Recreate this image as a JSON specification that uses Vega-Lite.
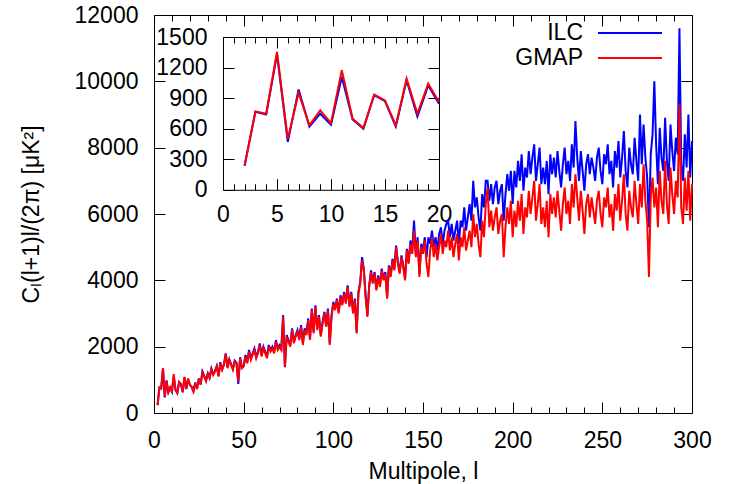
{
"$schema": "https://vega.github.io/schema/vega-lite/v6.json",
"width": 538, "height": 398,
"autosize": {"type": "none"},
"padding": {"left": 154, "top": 15, "right": 39, "bottom": 71},
"data": {"values": [
{"l":2,"ILC":235,"GMAP":239},{"l":3,"ILC":765,"GMAP":770},{"l":4,"ILC":740,"GMAP":747},{"l":5,"ILC":1330,"GMAP":1353},{"l":6,"ILC":470,"GMAP":501},{"l":7,"ILC":985,"GMAP":950},{"l":8,"ILC":620,"GMAP":632},{"l":9,"ILC":747,"GMAP":780},{"l":10,"ILC":639,"GMAP":655},
{"l":11,"ILC":1107,"GMAP":1173},{"l":12,"ILC":690,"GMAP":698},{"l":13,"ILC":600,"GMAP":606},{"l":14,"ILC":930,"GMAP":934},{"l":15,"ILC":870,"GMAP":878},{"l":16,"ILC":622,"GMAP":632},{"l":17,"ILC":1074,"GMAP":1091},{"l":18,"ILC":720,"GMAP":747},{"l":19,"ILC":1025,"GMAP":1042},{"l":20,"ILC":845,"GMAP":861},
{"l":21,"ILC":790,"GMAP":780},{"l":22,"ILC":660,"GMAP":640},{"l":23,"ILC":920,"GMAP":900},{"l":24,"ILC":740,"GMAP":720},{"l":25,"ILC":1040,"GMAP":1020},{"l":26,"ILC":870,"GMAP":850},{"l":27,"ILC":1250,"GMAP":1230},{"l":28,"ILC":1120,"GMAP":1100},{"l":29,"ILC":980,"GMAP":960},{"l":30,"ILC":1200,"GMAP":1180},
{"l":31,"ILC":1070,"GMAP":1050},{"l":32,"ILC":1340,"GMAP":1320},{"l":33,"ILC":1170,"GMAP":1150},{"l":34,"ILC":1270,"GMAP":1250},{"l":35,"ILC":1420,"GMAP":1400},{"l":36,"ILC":1120,"GMAP":1100},{"l":37,"ILC":1530,"GMAP":1500},{"l":38,"ILC":1320,"GMAP":1300},{"l":39,"ILC":1470,"GMAP":1450},{"l":40,"ILC":1800,"GMAP":1780},
{"l":41,"ILC":1380,"GMAP":1350},{"l":42,"ILC":1620,"GMAP":1600},{"l":43,"ILC":1470,"GMAP":1450},{"l":44,"ILC":1330,"GMAP":1300},{"l":45,"ILC":1580,"GMAP":1550},{"l":46,"ILC":1520,"GMAP":1500},{"l":47,"ILC":880,"GMAP":950},{"l":48,"ILC":1680,"GMAP":1650},{"l":49,"ILC":1380,"GMAP":1350},{"l":50,"ILC":1420,"GMAP":1400},
{"l":51,"ILC":1750,"GMAP":1700},{"l":52,"ILC":1550,"GMAP":1500},{"l":53,"ILC":1900,"GMAP":1850},{"l":54,"ILC":1650,"GMAP":1600},{"l":55,"ILC":1800,"GMAP":1750},{"l":56,"ILC":1950,"GMAP":1900},{"l":57,"ILC":1700,"GMAP":1650},{"l":58,"ILC":1850,"GMAP":1800},{"l":59,"ILC":2100,"GMAP":2050},{"l":60,"ILC":1750,"GMAP":1700},
{"l":61,"ILC":2000,"GMAP":1950},{"l":62,"ILC":1850,"GMAP":1800},{"l":63,"ILC":1700,"GMAP":1650},{"l":64,"ILC":2050,"GMAP":2000},{"l":65,"ILC":1900,"GMAP":1850},{"l":66,"ILC":2000,"GMAP":1950},{"l":67,"ILC":1850,"GMAP":1800},{"l":68,"ILC":2200,"GMAP":2150},{"l":69,"ILC":1950,"GMAP":1900},{"l":70,"ILC":2050,"GMAP":2000},
{"l":71,"ILC":1950,"GMAP":1900},{"l":72,"ILC":2950,"GMAP":2900},{"l":73,"ILC":1380,"GMAP":1400},{"l":74,"ILC":2350,"GMAP":2300},{"l":75,"ILC":2200,"GMAP":2150},{"l":76,"ILC":2050,"GMAP":2000},{"l":77,"ILC":2550,"GMAP":2500},{"l":78,"ILC":2150,"GMAP":2100},{"l":79,"ILC":2350,"GMAP":2300},{"l":80,"ILC":2500,"GMAP":2450},
{"l":81,"ILC":2250,"GMAP":2200},{"l":82,"ILC":2650,"GMAP":2600},{"l":83,"ILC":2100,"GMAP":2050},{"l":84,"ILC":2550,"GMAP":2500},{"l":85,"ILC":2400,"GMAP":2350},{"l":86,"ILC":2850,"GMAP":2800},{"l":87,"ILC":2250,"GMAP":2200},{"l":88,"ILC":3150,"GMAP":3100},{"l":89,"ILC":2450,"GMAP":2400},{"l":90,"ILC":3250,"GMAP":3200},
{"l":91,"ILC":2550,"GMAP":2500},{"l":92,"ILC":2950,"GMAP":2900},{"l":93,"ILC":2350,"GMAP":2300},{"l":94,"ILC":2750,"GMAP":2700},{"l":95,"ILC":3050,"GMAP":3000},{"l":96,"ILC":2650,"GMAP":2600},{"l":97,"ILC":3150,"GMAP":3100},{"l":98,"ILC":2100,"GMAP":2050},{"l":99,"ILC":2950,"GMAP":2900},{"l":100,"ILC":3350,"GMAP":3300},
{"l":101,"ILC":3150,"GMAP":3100},{"l":102,"ILC":3450,"GMAP":3400},{"l":103,"ILC":3050,"GMAP":3000},{"l":104,"ILC":3550,"GMAP":3500},{"l":105,"ILC":3300,"GMAP":3250},{"l":106,"ILC":3650,"GMAP":3600},{"l":107,"ILC":3350,"GMAP":3300},{"l":108,"ILC":3850,"GMAP":3800},{"l":109,"ILC":3250,"GMAP":3200},{"l":110,"ILC":3650,"GMAP":3600},
{"l":111,"ILC":3050,"GMAP":3000},{"l":112,"ILC":3450,"GMAP":3400},{"l":113,"ILC":2450,"GMAP":2400},{"l":114,"ILC":3650,"GMAP":3600},{"l":115,"ILC":3950,"GMAP":3900},{"l":116,"ILC":4700,"GMAP":4600},{"l":117,"ILC":4350,"GMAP":4300},{"l":118,"ILC":3550,"GMAP":3500},{"l":119,"ILC":2950,"GMAP":2900},{"l":120,"ILC":3850,"GMAP":3800},
{"l":121,"ILC":4300,"GMAP":4250},{"l":122,"ILC":3950,"GMAP":3900},{"l":123,"ILC":4250,"GMAP":4200},{"l":124,"ILC":3750,"GMAP":3700},{"l":125,"ILC":4150,"GMAP":4100},{"l":126,"ILC":3850,"GMAP":3800},{"l":127,"ILC":4350,"GMAP":4300},{"l":128,"ILC":4050,"GMAP":4000},{"l":129,"ILC":4250,"GMAP":4200},{"l":130,"ILC":3500,"GMAP":3450},
{"l":131,"ILC":4450,"GMAP":4400},{"l":132,"ILC":4150,"GMAP":4100},{"l":133,"ILC":4650,"GMAP":4600},{"l":134,"ILC":4350,"GMAP":4300},{"l":135,"ILC":5050,"GMAP":5000},{"l":136,"ILC":4550,"GMAP":4500},{"l":137,"ILC":4250,"GMAP":4200},{"l":138,"ILC":4750,"GMAP":4700},{"l":139,"ILC":4450,"GMAP":4400},{"l":140,"ILC":4050,"GMAP":4000},
{"l":141,"ILC":4950,"GMAP":4900},{"l":142,"ILC":4550,"GMAP":4500},{"l":143,"ILC":5200,"GMAP":5100},{"l":144,"ILC":4900,"GMAP":4800},{"l":145,"ILC":5800,"GMAP":5500},{"l":146,"ILC":4800,"GMAP":4700},{"l":147,"ILC":5300,"GMAP":5200},{"l":148,"ILC":4200,"GMAP":4100},{"l":149,"ILC":5100,"GMAP":5000},{"l":150,"ILC":4900,"GMAP":4800},
{"l":151,"ILC":5300,"GMAP":5200},{"l":152,"ILC":4700,"GMAP":4500},{"l":153,"ILC":5300,"GMAP":4100},{"l":154,"ILC":5100,"GMAP":4900},{"l":155,"ILC":5500,"GMAP":5300},{"l":156,"ILC":5000,"GMAP":4700},{"l":157,"ILC":5300,"GMAP":5100},{"l":158,"ILC":4900,"GMAP":4600},{"l":159,"ILC":5400,"GMAP":5000},{"l":160,"ILC":5600,"GMAP":5400},
{"l":161,"ILC":5100,"GMAP":4800},{"l":162,"ILC":5500,"GMAP":5200},{"l":163,"ILC":5700,"GMAP":5000},{"l":164,"ILC":5800,"GMAP":5500},{"l":165,"ILC":5300,"GMAP":4900},{"l":166,"ILC":5700,"GMAP":5300},{"l":167,"ILC":5200,"GMAP":4700},{"l":168,"ILC":5500,"GMAP":5100},{"l":169,"ILC":5800,"GMAP":5400},{"l":170,"ILC":5100,"GMAP":4600},
{"l":171,"ILC":5800,"GMAP":5300},{"l":172,"ILC":5600,"GMAP":5000},{"l":173,"ILC":6200,"GMAP":5600},{"l":174,"ILC":5500,"GMAP":4900},{"l":175,"ILC":5900,"GMAP":5200},{"l":176,"ILC":6300,"GMAP":5500},{"l":177,"ILC":5800,"GMAP":5000},{"l":178,"ILC":7000,"GMAP":6000},{"l":179,"ILC":6200,"GMAP":5300},{"l":180,"ILC":6500,"GMAP":5700},
{"l":181,"ILC":5900,"GMAP":5100},{"l":182,"ILC":5500,"GMAP":4700},{"l":183,"ILC":6600,"GMAP":5800},{"l":184,"ILC":6200,"GMAP":5300},{"l":185,"ILC":7000,"GMAP":6300},{"l":186,"ILC":7000,"GMAP":6800},{"l":187,"ILC":6400,"GMAP":5600},{"l":188,"ILC":6900,"GMAP":6100},{"l":189,"ILC":6300,"GMAP":5500},{"l":190,"ILC":6800,"GMAP":5900},
{"l":191,"ILC":7000,"GMAP":6200},{"l":192,"ILC":6300,"GMAP":5400},{"l":193,"ILC":6700,"GMAP":5800},{"l":194,"ILC":6900,"GMAP":6000},{"l":195,"ILC":5800,"GMAP":4700},{"l":196,"ILC":6600,"GMAP":5600},{"l":197,"ILC":7200,"GMAP":6200},{"l":198,"ILC":6700,"GMAP":5700},{"l":199,"ILC":7300,"GMAP":6400},{"l":200,"ILC":6300,"GMAP":5300},
{"l":201,"ILC":7300,"GMAP":6100},{"l":202,"ILC":6800,"GMAP":5600},{"l":203,"ILC":7600,"GMAP":6400},{"l":204,"ILC":7000,"GMAP":5800},{"l":205,"ILC":7800,"GMAP":6600},{"l":206,"ILC":6700,"GMAP":5400},{"l":207,"ILC":7400,"GMAP":6200},{"l":208,"ILC":7100,"GMAP":5900},{"l":209,"ILC":7900,"GMAP":6700},{"l":210,"ILC":7200,"GMAP":6000},
{"l":211,"ILC":7700,"GMAP":6500},{"l":212,"ILC":8100,"GMAP":7000},{"l":213,"ILC":7000,"GMAP":5800},{"l":214,"ILC":7500,"GMAP":6300},{"l":215,"ILC":8000,"GMAP":6900},{"l":216,"ILC":6900,"GMAP":5700},{"l":217,"ILC":7400,"GMAP":6200},{"l":218,"ILC":6900,"GMAP":5600},{"l":219,"ILC":7600,"GMAP":6400},{"l":220,"ILC":6600,"GMAP":5300},
{"l":221,"ILC":7800,"GMAP":6600},{"l":222,"ILC":7200,"GMAP":6000},{"l":223,"ILC":7700,"GMAP":6500},{"l":224,"ILC":7100,"GMAP":5900},{"l":225,"ILC":7900,"GMAP":6700},{"l":226,"ILC":7300,"GMAP":6100},{"l":227,"ILC":6800,"GMAP":5500},{"l":228,"ILC":7500,"GMAP":6300},{"l":229,"ILC":8000,"GMAP":6800},{"l":230,"ILC":7200,"GMAP":6000},
{"l":231,"ILC":7600,"GMAP":6400},{"l":232,"ILC":7000,"GMAP":5700},{"l":233,"ILC":8100,"GMAP":6900},{"l":234,"ILC":7400,"GMAP":6200},{"l":235,"ILC":8800,"GMAP":7200},{"l":236,"ILC":7700,"GMAP":6500},{"l":237,"ILC":7000,"GMAP":5800},{"l":238,"ILC":7900,"GMAP":6700},{"l":239,"ILC":7300,"GMAP":6100},{"l":240,"ILC":6700,"GMAP":5400},
{"l":241,"ILC":7500,"GMAP":6300},{"l":242,"ILC":7800,"GMAP":6600},{"l":243,"ILC":7200,"GMAP":5900},{"l":244,"ILC":7700,"GMAP":6500},{"l":245,"ILC":7400,"GMAP":6100},{"l":246,"ILC":7000,"GMAP":5700},{"l":247,"ILC":7700,"GMAP":6400},{"l":248,"ILC":8000,"GMAP":6700},{"l":249,"ILC":7300,"GMAP":6000},{"l":250,"ILC":6900,"GMAP":5600},
{"l":251,"ILC":7800,"GMAP":6500},{"l":252,"ILC":7500,"GMAP":6200},{"l":253,"ILC":8100,"GMAP":6800},{"l":254,"ILC":7200,"GMAP":5900},{"l":255,"ILC":7600,"GMAP":6300},{"l":256,"ILC":6800,"GMAP":5500},{"l":257,"ILC":7900,"GMAP":6600},{"l":258,"ILC":7400,"GMAP":6100},{"l":259,"ILC":8200,"GMAP":6900},{"l":260,"ILC":7100,"GMAP":5800},
{"l":261,"ILC":7700,"GMAP":6400},{"l":262,"ILC":8500,"GMAP":7200},{"l":263,"ILC":7300,"GMAP":6000},{"l":264,"ILC":6800,"GMAP":5500},{"l":265,"ILC":8000,"GMAP":6700},{"l":266,"ILC":7500,"GMAP":6200},{"l":267,"ILC":7200,"GMAP":5900},{"l":268,"ILC":8300,"GMAP":7000},{"l":269,"ILC":7600,"GMAP":6300},{"l":270,"ILC":7000,"GMAP":5700},
{"l":271,"ILC":9000,"GMAP":6900},{"l":272,"ILC":7500,"GMAP":6200},{"l":273,"ILC":8700,"GMAP":7500},{"l":274,"ILC":7700,"GMAP":6400},{"l":275,"ILC":7100,"GMAP":5800},{"l":276,"ILC":5600,"GMAP":4100},{"l":277,"ILC":7800,"GMAP":6500},{"l":278,"ILC":8400,"GMAP":7100},{"l":279,"ILC":10000,"GMAP":6200},{"l":280,"ILC":8100,"GMAP":6800},
{"l":281,"ILC":6900,"GMAP":5600},{"l":282,"ILC":8600,"GMAP":7300},{"l":283,"ILC":7700,"GMAP":6400},{"l":284,"ILC":7300,"GMAP":6000},{"l":285,"ILC":8900,"GMAP":7600},{"l":286,"ILC":7600,"GMAP":6300},{"l":287,"ILC":7000,"GMAP":5700},{"l":288,"ILC":8700,"GMAP":7400},{"l":289,"ILC":7900,"GMAP":6600},{"l":290,"ILC":7300,"GMAP":6000},
{"l":291,"ILC":8300,"GMAP":7000},{"l":292,"ILC":7800,"GMAP":6500},{"l":293,"ILC":11600,"GMAP":9300},{"l":294,"ILC":7500,"GMAP":6200},{"l":295,"ILC":7000,"GMAP":5700},{"l":296,"ILC":8400,"GMAP":7100},{"l":297,"ILC":7400,"GMAP":6100},{"l":298,"ILC":9000,"GMAP":7300},{"l":299,"ILC":7100,"GMAP":5800},{"l":300,"ILC":8200,"GMAP":6900}
]},
"transform": [{"fold": ["ILC", "GMAP"], "as": ["s", "v"]}],
"layer": [
{
"transform": [{"filter": "datum.s === 'ILC'"}],
"mark": {"type": "line", "strokeWidth": 2},
"encoding": {
"x": {"field": "l", "type": "quantitative", "scale": {"domain": [0, 300], "nice": false},
"axis": {"orient": "bottom", "values": [0,10,20,30,40,50,60,70,80,90,100,110,120,130,140,150,160,170,180,190,200,210,220,230,240,250,260,270,280,290,300],
"tickSize": {"condition": {"test": "datum.value % 50 === 0", "value": -11}, "value": -6},
"labelExpr": "datum.value % 50 === 0 ? datum.label : ''", "labelPadding": 27, "title": "Multipole, l", "titlePadding": 3}},
"y": {"field": "v", "type": "quantitative", "scale": {"domain": [0, 12000], "nice": false},
"axis": {"orient": "left", "values": [0,2000,4000,6000,8000,10000,12000], "tickSize": -11, "labelPadding": 27, "format": "d", "title": "Cₗ(l+1)l/(2π) [μK²]", "titlePadding": 31}},
"color": {"field": "s", "type": "nominal", "scale": {"domain": ["ILC", "GMAP"], "range": ["#0000ff", "#ff0000"]}}
}
},
{
"transform": [{"filter": "datum.s === 'GMAP'"}],
"mark": {"type": "line", "strokeWidth": 2},
"encoding": {
"x": {"field": "l", "type": "quantitative", "scale": {"domain": [0, 300], "nice": false},
"axis": {"orient": "top", "values": [0,10,20,30,40,50,60,70,80,90,100,110,120,130,140,150,160,170,180,190,200,210,220,230,240,250,260,270,280,290,300],
"tickSize": {"condition": {"test": "datum.value % 50 === 0", "value": -11}, "value": -6}, "labels": false, "title": null}},
"y": {"field": "v", "type": "quantitative", "scale": {"domain": [0, 12000], "nice": false},
"axis": {"orient": "right", "values": [0,2000,4000,6000,8000,10000,12000], "tickSize": -11, "labels": false, "title": null}},
"color": {"field": "s", "type": "nominal"}
}
},
{
"transform": [{"filter": "datum.l <= 20 && datum.s === 'ILC'"}],
"mark": {"type": "line", "strokeWidth": 2},
"encoding": {
"x": {"field": "l", "type": "quantitative", "scale": {"domain": [0, 20], "nice": false, "range": [69, 285]},
"axis": {"orient": "bottom", "offset": -223.2, "values": [0,1,2,3,4,5,6,7,8,9,10,11,12,13,14,15,16,17,18,19,20],
"tickSize": {"condition": {"test": "datum.value % 5 === 0", "value": -11}, "value": -6},
"labelExpr": "datum.value % 5 === 0 ? datum.label : ''", "labelPadding": 25, "title": null}},
"y": {"field": "v", "type": "quantitative", "scale": {"domain": [0, 1500], "nice": false, "range": [174.8, 22]},
"axis": {"orient": "left", "offset": -69, "values": [0,300,600,900,1200,1500], "tickSize": -11, "labelPadding": 27, "format": "d", "title": null}},
"color": {"field": "s", "type": "nominal"}
}
},
{
"transform": [{"filter": "datum.l <= 20 && datum.s === 'GMAP'"}],
"mark": {"type": "line", "strokeWidth": 2},
"encoding": {
"x": {"field": "l", "type": "quantitative", "scale": {"domain": [0, 20], "nice": false, "range": [69, 285]},
"axis": {"orient": "top", "offset": -22, "values": [0,1,2,3,4,5,6,7,8,9,10,11,12,13,14,15,16,17,18,19,20],
"tickSize": {"condition": {"test": "datum.value % 5 === 0", "value": -11}, "value": -6}, "labels": false, "title": null}},
"y": {"field": "v", "type": "quantitative", "scale": {"domain": [0, 1500], "nice": false, "range": [174.8, 22]},
"axis": {"orient": "right", "offset": -253, "values": [0,300,600,900,1200,1500], "tickSize": -11, "labels": false, "title": null}},
"color": {"field": "s", "type": "nominal"}
}
}
],
"resolve": {"scale": {"x": "independent", "y": "independent"}, "axis": {"x": "independent", "y": "independent"}},
"config": {
"view": {"stroke": null},
"font": "Liberation Sans",
"axis": {"grid": false, "domainColor": "black", "domainWidth": 1, "tickColor": "black", "tickWidth": 1,
"labelFont": "Liberation Sans", "labelFontSize": 23, "labelColor": "black", "labelFlush": false, "labelOverlap": false,
"titleFont": "Liberation Sans", "titleFontSize": 23, "titleFontWeight": "normal", "titleColor": "black"},
"legend": {"orient": "none", "legendX": 464.5, "legendY": 6.5, "title": null, "padding": 0, "rowPadding": 1,
"labelFont": "Liberation Sans", "labelFontSize": 23, "labelColor": "black", "labelAlign": "right", "labelOffset": -58.5, "labelLimit": 0,
"symbolType": "M-3.2,0H3.2", "symbolSize": 400, "symbolStrokeWidth": 2}
}
}
